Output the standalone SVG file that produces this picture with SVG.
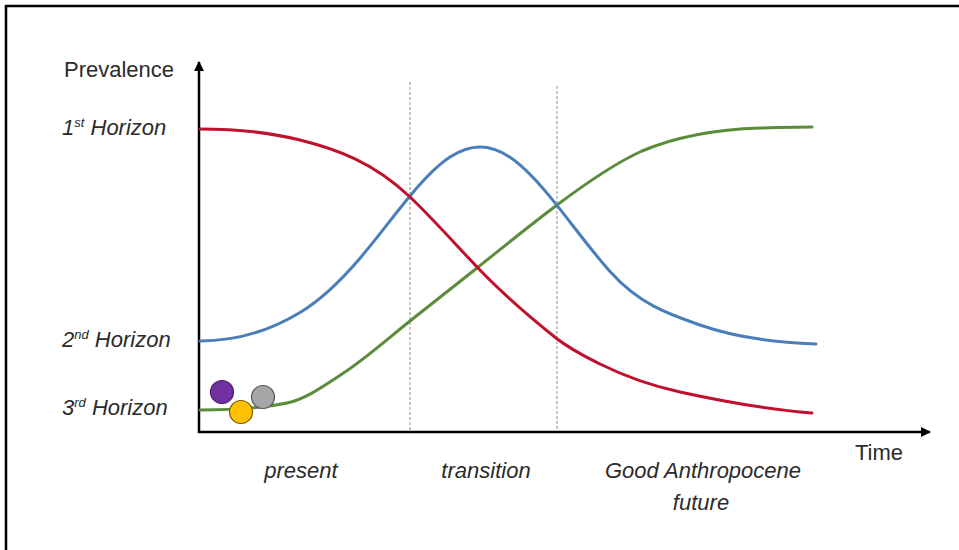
<svg xmlns="http://www.w3.org/2000/svg" width="959" height="550" viewBox="0 0 959 550">
<defs>
<style>
.lab{font-family:"Liberation Sans",Arial,sans-serif;font-size:22px;fill:#2b2b2b}
.it{font-style:italic}
.axis{stroke:#000;stroke-width:2.5;fill:none}
.dash{stroke:#8c8c8c;stroke-width:1;stroke-dasharray:3 2;fill:none}
.curve{fill:none;stroke-width:3;stroke-linecap:round}
</style>
<marker id="arr" viewBox="0 0 10 10" refX="9" refY="5" markerWidth="4" markerHeight="4" orient="auto" markerUnits="strokeWidth">
<path d="M0,0 L10,5 L0,10 z" fill="#000"/>
</marker>
</defs>
<rect width="959" height="550" fill="#fff"/>
<g id="frame"><path d="M6,550 V6 H959" fill="none" stroke="#000" stroke-width="2.5"/></g>
<g id="connectors">
<line class="dash" x1="410" y1="82" x2="410" y2="430"/>
<line class="dash" x1="557" y1="86" x2="557" y2="431"/>
<path class="axis" d="M199,433 V62" marker-end="url(#arr)"/>
<path class="axis" d="M198,432 H930" marker-end="url(#arr)"/>
<path id="green" class="curve" stroke="#5B8C3B" d="M200,410 C229,410 258,408.8 287,403 C305.3,399.3 323.7,385.9 342,374 C364.7,359.3 387.3,339.1 410,321 C432.3,303.1 454.7,285.9 477,268 C503.7,246.7 530.3,225 557,205 C585.3,183.8 613.7,163.7 642,151 C681.3,134.5 720.7,129.2 760,128 C777.3,127.5 794.7,127 812,127"/>
<path id="blue" class="curve" stroke="#4A7EBB" d="M200,341 C233.3,341 266.7,332.7 300,312.5 C320,300.4 340,281.7 360,258.2 C376.7,238.6 393.3,216 410,196 C423.3,180 436.7,165.8 450,157.1 C460,150.6 470,147 480,147 C490,147 500,150.6 510,157.2 C525.3,167.4 540.7,184.8 556,204.1 C574,226.7 592,251.4 610,271.5 C640,305 670,314.5 700,325 C738.7,338.5 777.3,342.1 816,344"/>
<path id="red" class="curve" stroke="#C0102E" d="M200,129 C233.3,129 266.7,131.7 300,140 C336.7,149.2 373.3,162.1 410,197 C432.7,218.5 455.3,244.2 478,268 C504,295.3 530,317.2 556,338 C570.7,349.7 585.3,356.7 600,364 C626.7,377.3 653.3,386.1 680,392 C724,401.7 768,409.5 812,413"/>
</g>
<g id="purple-dot"><circle cx="222" cy="392" r="11.5" fill="#7030A0" stroke="#4a1f6e" stroke-width="1.2"/></g>
<g id="gray-dot"><circle cx="263" cy="397" r="11.5" fill="#A6A6A6" stroke="#555" stroke-width="1.2"/></g>
<g id="yellow-dot"><circle cx="241" cy="412" r="11.5" fill="#FFC000" stroke="#7a5c00" stroke-width="1.2"/></g>
<g id="labels">
<text class="lab" x="64" y="77">Prevalence</text>
<text class="lab it" x="62" y="135">1<tspan font-size="13" dy="-8">st</tspan><tspan dy="8"> Horizon</tspan></text>
<text class="lab it" x="62" y="347">2<tspan font-size="13" dy="-8">nd</tspan><tspan dy="8"> Horizon</tspan></text>
<text class="lab it" x="62" y="415">3<tspan font-size="13" dy="-8">rd</tspan><tspan dy="8"> Horizon</tspan></text>
<text class="lab" x="855" y="460">Time</text>
<text class="lab it" x="301" y="478" text-anchor="middle">present</text>
<text class="lab it" x="486" y="478" text-anchor="middle">transition</text>
<text class="lab it" x="703" y="478" text-anchor="middle">Good Anthropocene</text>
<text class="lab it" x="701" y="510" text-anchor="middle">future</text>
</g>
</svg>
